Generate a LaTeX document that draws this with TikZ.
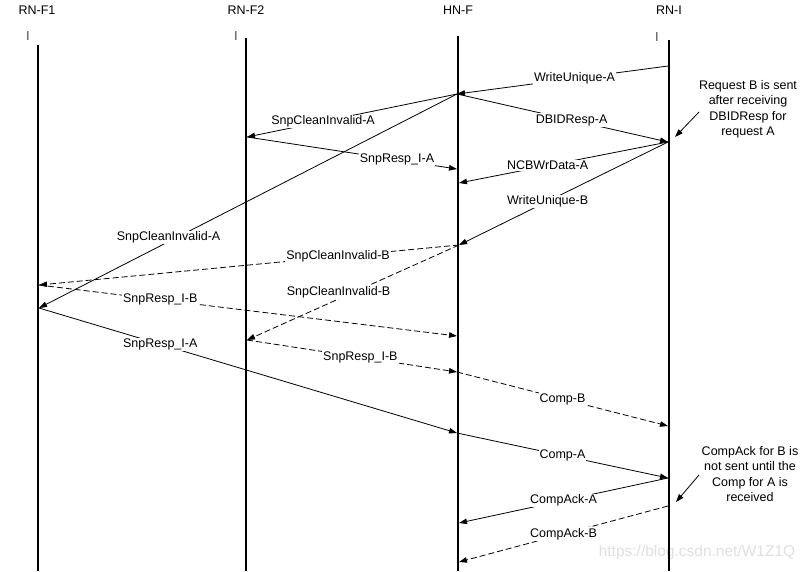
\documentclass[tikz,border=0pt]{standalone}
\usepackage{fontspec}
\setmainfont{Liberation Sans}
\usetikzlibrary{arrows.meta}
\begin{document}
\begin{tikzpicture}[x=1pt,y=-1pt,
  lifeline/.style={line width=2pt,black},
  msg/.style={line width=0.8pt,-{Triangle[length=8pt,width=5.5pt]}},
  dmsg/.style={msg,dash pattern=on 6pt off 3pt},
  lbl/.style={fill=white,inner sep=1pt,font=\fontsize{12.5}{15}\selectfont},
  hdr/.style={font=\fontsize{12.5}{15}\selectfont},
  tickmark/.style={font=\fontsize{13}{15}\selectfont,text=black!70},
  note/.style={align=center,font=\fontsize{12.5}{15.5}\selectfont},
  ]
\useasboundingbox[fill=white] (0,0) rectangle (806,571);

% watermark (behind everything)
\node[font=\fontsize{15.5}{18}\selectfont,text=black!12] (wm) at (697,552) {https://blog.csdn.net/W1Z1Q};

% headers
\node[hdr] (nF1) at (37,10) {RN-F1};
\node[hdr] (nF2) at (246,10) {RN-F2};
\node[hdr] (nHN) at (458,10) {HN-F};
\node[hdr] (nRI) at (669,10) {RN-I};
\node[tickmark] (iF1) at (28,36) {I};
\node[tickmark] (iF2) at (236,36) {I};
\node[tickmark] (iRI) at (657,37) {I};

% lifelines
\coordinate (tF1) at (38,45);  \coordinate (bF1) at (38,571);
\coordinate (tF2) at (246,38); \coordinate (bF2) at (246,571);
\coordinate (tHN) at (458,36); \coordinate (bHN) at (458,571);
\coordinate (tRI) at (669,40); \coordinate (bRI) at (669,571);
\draw[lifeline] (tF1) -- (bF1);
\draw[lifeline] (tF2) -- (bF2);
\draw[lifeline] (tHN) -- (bHN);
\draw[lifeline] (tRI) -- (bRI);

% event points
\coordinate (f1a) at (39,285);
\coordinate (f1b) at (39,308);
\coordinate (f2a) at (247,137);
\coordinate (f2b) at (247,340);
\coordinate (h1) at (457,94);
\coordinate (h2) at (457,169);
\coordinate (h3) at (459,183);
\coordinate (h4) at (459,245);
\coordinate (h5) at (457,336);
\coordinate (h6) at (457,372);
\coordinate (h7) at (457,433);
\coordinate (h8) at (459,523);
\coordinate (h9) at (459,562);
\coordinate (r1) at (668,66);
\coordinate (r2) at (668,142);
\coordinate (r3) at (668,426);
\coordinate (r4) at (668,478);
\coordinate (r5) at (668,506);

% messages
\draw[msg] (r1) -- node[lbl,pos=0.443] (l1) {WriteUnique-A} (h1);
\draw[msg] (h1) -- node[lbl,pos=0.543] (l2) {DBIDResp-A} (r2);
\draw[msg] (h1) -- node[lbl,pos=0.638] (l3) {SnpCleanInvalid-A} (f2a);
\draw[msg] (h1) -- node[lbl,pos=0.69,yshift=4pt] (l4) {SnpCleanInvalid-A} (f1b);
\draw[msg] (f2a) -- node[lbl,pos=0.714] (l5) {SnpResp\_I-A} (h2);
\draw[msg] (r2) -- node[lbl,pos=0.576] (l6) {NCBWrData-A} (h3);
\draw[msg] (r2) -- node[lbl,pos=0.576] (l7) {WriteUnique-B} (h4);
\draw[dmsg] (h4) -- node[lbl,pos=0.288] (l8) {SnpCleanInvalid-B} (f1a);
\draw[dmsg] (h4) -- node[lbl,pos=0.568,yshift=7pt] (l9) {SnpCleanInvalid-B} (f2b);
\draw[dmsg] (f1a) -- node[lbl,pos=0.29] (l10) {SnpResp\_I-B} (h5);
\draw[msg] (f1b) -- node[lbl,pos=0.29] (l11) {SnpResp\_I-A} (h7);
\draw[dmsg] (f2b) -- node[lbl,pos=0.54] (l12) {SnpResp\_I-B} (h6);
\draw[dmsg] (h6) -- node[lbl,pos=0.5] (l13) {Comp-B} (r3);
\draw[msg] (h7) -- node[lbl,pos=0.5] (l14) {Comp-A} (r4);
\draw[msg] (r4) -- node[lbl,pos=0.5] (l15) {CompAck-A} (h8);
\draw[dmsg] (r5) -- node[lbl,pos=0.5] (l16) {CompAck-B} (h9);

% notes
\node[note] (noteB) at (748,109.5) {Request B is sent\\after receiving\\DBIDResp for\\request A};
\coordinate (aBs) at (699,112);
\coordinate (aBe) at (675,137);
\draw[msg] (aBs) -- (aBe);
\node[note] (noteC) at (750,474) {CompAck for B is\\not sent until the\\Comp for A is\\received};
\coordinate (aCs) at (699,475);
\coordinate (aCe) at (676,502);
\draw[msg] (aCs) -- (aCe);
\end{tikzpicture}
\end{document}
